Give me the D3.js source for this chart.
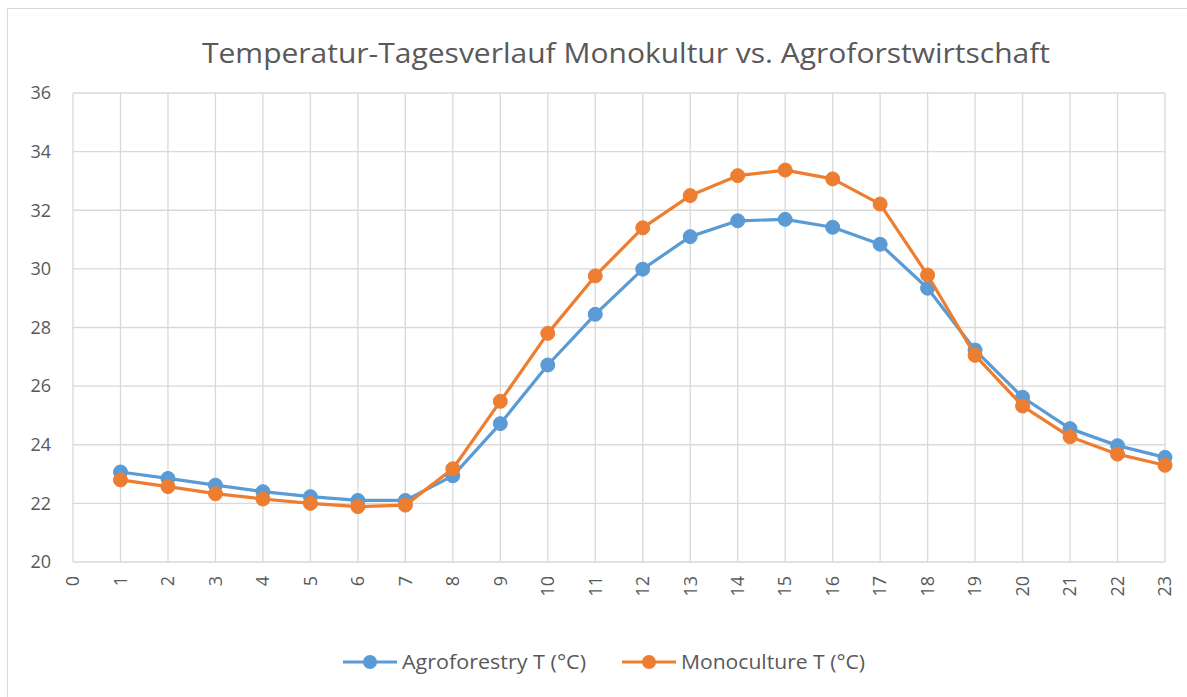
<!DOCTYPE html>
<html><head><meta charset="utf-8">
<script src="https://cdn.jsdelivr.net/npm/d3@7"></script>
<style>body{margin:0;background:#fff}svg{display:block}</style>
</head><body>
<script>
const title = "Temperatur-Tagesverlauf Monokultur vs. Agroforstwirtschaft";
const hours = d3.range(1, 24);
const xTicks = d3.range(0, 24);
const yTicks = [20, 22, 24, 26, 28, 30, 32, 34, 36];
const agroforestry = [23.07, 22.85, 22.62, 22.4, 22.23, 22.1, 22.1, 22.94, 24.72, 26.72, 28.45, 29.99, 31.1, 31.64, 31.69, 31.42, 30.84, 29.34, 27.23, 25.62, 24.55, 23.97, 23.57];
const monoculture = [22.8, 22.57, 22.33, 22.15, 22.0, 21.89, 21.94, 23.18, 25.48, 27.8, 29.76, 31.4, 32.5, 33.18, 33.37, 33.07, 32.21, 29.79, 27.05, 25.32, 24.27, 23.68, 23.3];
const seriesNames = ["Agroforestry T (°C)", "Monoculture T (°C)"];
const colors = ["#5B9BD5", "#ED7D31"];

const W = 1187, H = 697;
const svg = d3.select("body").append("svg").attr("width", W).attr("height", H);
const font = "'Open Sans', 'Noto Sans', sans-serif";
svg.append("rect").attr("x", 7.5).attr("y", 8.5).attr("width", 1200).attr("height", 700)
  .attr("fill", "#fff").attr("stroke", "#D9D9D9");

const x = d3.scaleLinear().domain([0, 23]).range([73, 1165]);
const y = d3.scaleLinear().domain([20, 36]).range([562, 93]);

// gridlines
svg.append("g").selectAll("line").data(xTicks).join("line")
  .attr("x1", d => x(d)).attr("x2", d => x(d)).attr("y1", y(36)).attr("y2", y(20))
  .attr("stroke", "#D9D9D9").attr("stroke-width", 1.3);
svg.append("g").selectAll("line").data(yTicks).join("line")
  .attr("x1", x(0)).attr("x2", x(23)).attr("y1", d => y(d)).attr("y2", d => y(d))
  .attr("stroke", "#D9D9D9").attr("stroke-width", 1.3);

// y axis labels
svg.append("g").selectAll("text").data(yTicks).join("text")
  .attr("x", 51).attr("y", d => y(d)).attr("dy", "0.35em").attr("text-anchor", "end")
  .attr("font-family", font).attr("font-size", 18).attr("fill", "#595959").text(d => d);
// x axis labels rotated
svg.append("g").selectAll("text").data(xTicks).join("text")
  .attr("transform", d => `translate(${x(d)},576) rotate(-90)`)
  .attr("dy", "0.35em").attr("text-anchor", "end")
  .attr("font-family", font).attr("font-size", 18).attr("fill", "#595959").text(d => d);

// title
svg.append("text").attr("x", 626).attr("y", 63).attr("text-anchor", "middle")
  .attr("font-family", font).attr("font-size", 28).attr("fill", "#595959")
  .attr("textLength", 848).attr("lengthAdjust", "spacingAndGlyphs").text(title);

// series
const line = d3.line().x((d, i) => x(hours[i])).y(d => y(d));
[agroforestry, monoculture].forEach((s, k) => {
  const g = svg.append("g");
  g.append("path").datum(s).attr("d", line).attr("fill", "none")
    .attr("stroke", colors[k]).attr("stroke-width", 3.2).attr("stroke-linejoin", "round");
  g.selectAll("circle").data(s).join("circle")
    .attr("cx", (d, i) => x(hours[i])).attr("cy", d => y(d)).attr("r", 7)
    .attr("fill", colors[k]).attr("stroke", colors[k]).attr("stroke-width", 1);
});

// legend
const legX = [343, 622];
const legW = [184, 184];
seriesNames.forEach((n, k) => {
  const g = svg.append("g").attr("transform", `translate(${legX[k]},662)`);
  g.append("line").attr("x1", 0).attr("x2", 54).attr("stroke", colors[k]).attr("stroke-width", 3.2);
  g.append("circle").attr("cx", 27).attr("r", 7).attr("fill", colors[k]);
  g.append("text").attr("x", 59).attr("dy", "0.35em").attr("font-family", font)
    .attr("font-size", 20).attr("fill", "#595959")
    .attr("textLength", legW[k]).attr("lengthAdjust", "spacingAndGlyphs").text(n);
});
</script>
</body></html>
